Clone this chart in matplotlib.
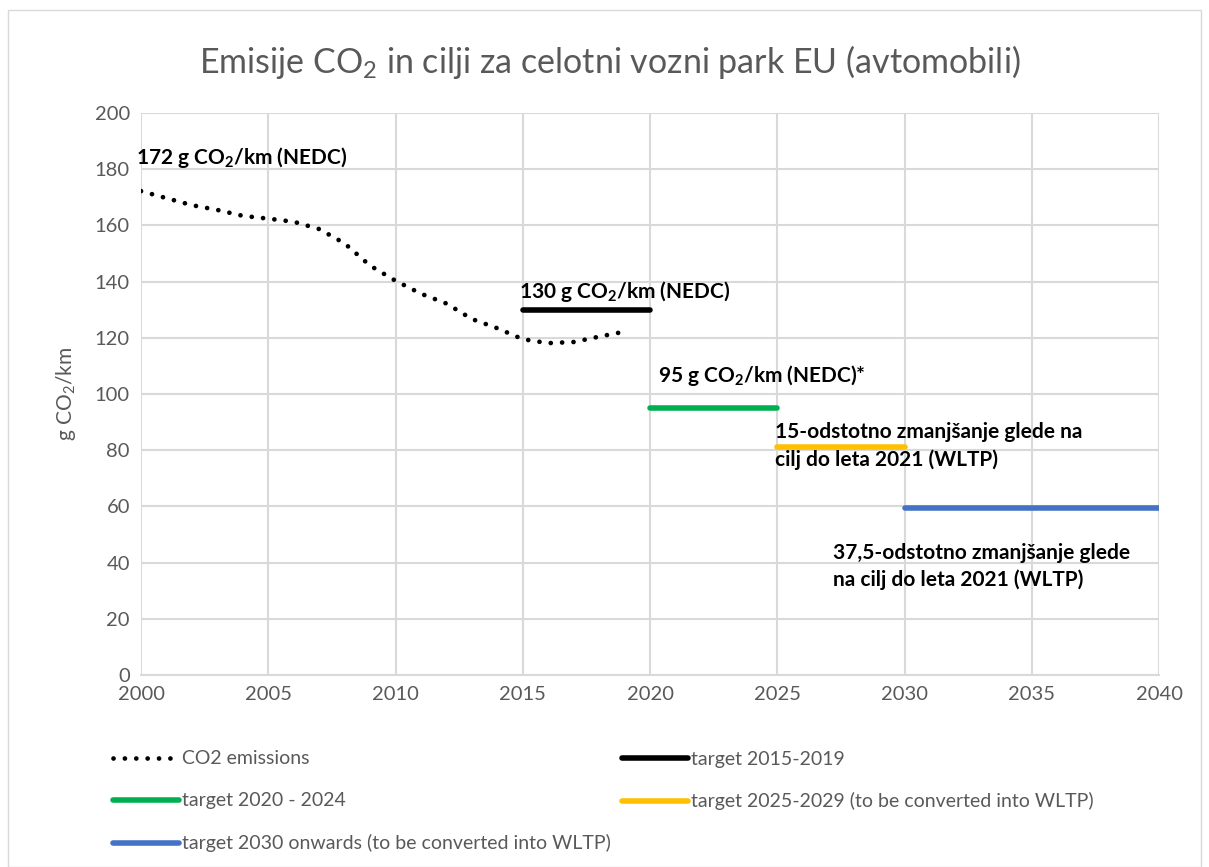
import matplotlib
matplotlib.use("Agg")
import matplotlib.pyplot as plt
from matplotlib.patches import Rectangle

plt.rcParams['font.family'] = ['Lato', 'DejaVu Sans']
plt.rcParams['mathtext.fontset'] = 'custom'
plt.rcParams['mathtext.rm'] = 'Lato'
plt.rcParams['mathtext.it'] = 'Lato:italic'
plt.rcParams['mathtext.bf'] = 'Lato:bold'

# yearly fleet average emissions (NEDC)
years = [2000, 2001, 2002, 2003, 2004, 2005, 2006, 2007, 2008, 2009,
         2010, 2011, 2012, 2013, 2014, 2015, 2016, 2017, 2018, 2019]
emissions = [172.2, 169.7, 167.2, 165.5, 163.4, 162.4, 161.3, 158.7, 153.6, 145.7,
             140.3, 135.7, 132.2, 126.7, 123.4, 119.5, 118.1, 118.5, 120.4, 122.2]

# targets: (start, end, value)
target_names = ['target 2015-2019', 'target 2020 - 2024',
                'target 2025-2029 (to be converted into WLTP)',
                'target 2030 onwards (to be converted into WLTP)']
target_start = [2015, 2020, 2025, 2030]
target_end = [2020, 2025, 2030, 2040]
target_value = [130, 95, 81, 59.5]
target_colors = ['#000000', '#00B050', '#FFC000', '#4472C4']

GRAY = '#595959'

fig = plt.figure(figsize=(12.09, 8.67), dpi=100)
fig.patches.append(Rectangle((8 / 1209, 0), 1193 / 1209, 857 / 867, transform=fig.transFigure,
                             fill=False, edgecolor='#D9D9D9', linewidth=1))
ax = fig.add_axes([141 / 1209, 1 - 675 / 867, (1159 - 141) / 1209, (675 - 113) / 867])

co2_line, = ax.plot(years, emissions, color='black', linewidth=3.4,
                    linestyle=(0, (0.01, 2.4)), dash_capstyle='round', solid_capstyle='round',
                    label='CO2 emissions', zorder=3)
target_lines = []
for name, s, e, v, c in zip(target_names, target_start, target_end, target_value, target_colors):
    ln, = ax.plot([s, e], [v, v], color=c, linewidth=4, solid_capstyle='round',
                  label=name, zorder=3)
    target_lines.append(ln)

ax.set_xlim(2000, 2040)
ax.set_ylim(0, 200)
ax.set_xticks(range(2000, 2041, 5))
ax.set_yticks(range(0, 201, 20))
ax.grid(True, color='#D9D9D9', linewidth=1.5)
ax.set_axisbelow(True)
for sp in ['top', 'right', 'left']:
    ax.spines[sp].set_visible(False)
ax.spines['bottom'].set_color('#D9D9D9')
ax.spines['bottom'].set_linewidth(1.5)
ax.tick_params(length=0, labelsize=14.5, labelcolor=GRAY, pad=8)
ax.set_ylabel('g CO$_2$/km', fontsize=15, color=GRAY, labelpad=12)

fig.text(610 / 1209, 1 - 62 / 867, 'Emisije CO$_2$ in cilji za celotni vozni park EU (avtomobili)',
         ha='center', va='center', fontsize=24.5, color=GRAY)

ann = dict(fontsize=15, fontweight='bold', color='black', va='center', ha='left')
ax.text(1999.8, 184, '172 g CO$_\\mathbf{2}$/km (NEDC)', **ann)
ax.text(2014.85, 136.5, '130 g CO$_\\mathbf{2}$/km (NEDC)', **ann)
ax.text(2020.3, 106.5, '95 g CO$_\\mathbf{2}$/km (NEDC)*', **ann)
ax.text(2024.9, 81.5, '15-odstotno zmanjšanje glede na\ncilj do leta 2021 (WLTP)',
        linespacing=1.4, **ann)
ax.text(2027.2, 38.5, '37,5-odstotno zmanjšanje glede\nna cilj do leta 2021 (WLTP)',
        linespacing=1.4, **ann)

handles = [co2_line, target_lines[1], target_lines[3], target_lines[0], target_lines[2]]
fig.legend(handles=handles, labels=[h.get_label() for h in handles], ncol=2,
           loc='upper left', bbox_to_anchor=(95 / 1209, 1 - 733 / 867),
           frameon=False, fontsize=14, labelcolor=GRAY, handlelength=3.4,
           handletextpad=0.15, columnspacing=0.6, labelspacing=1.28)

fig.savefig('out.png', dpi=100)
